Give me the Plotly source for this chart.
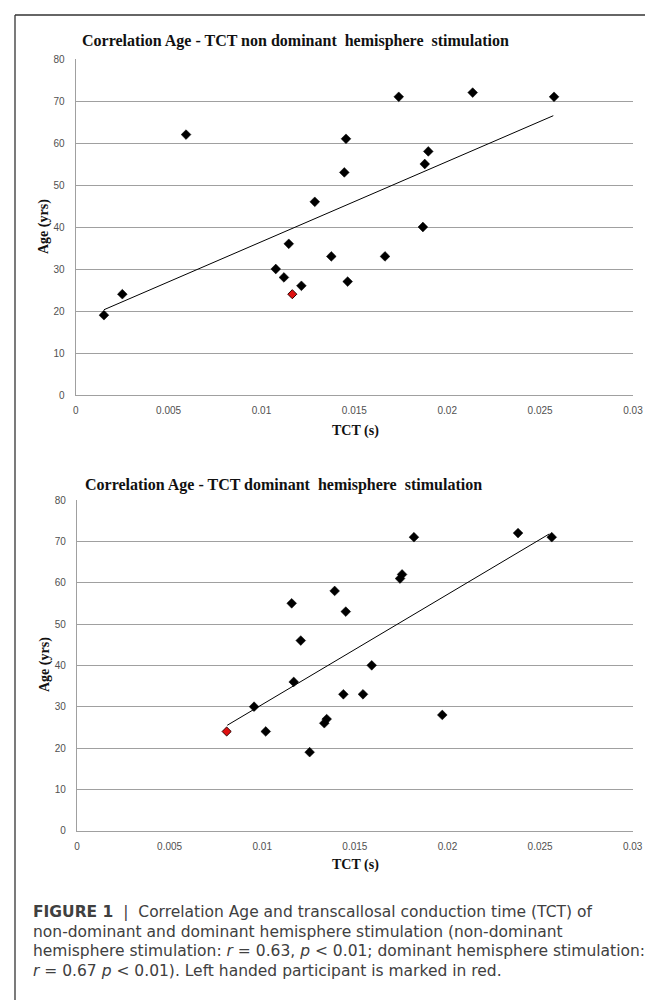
import plotly.graph_objects as go

W, H = 653, 1001

# ---------------- data ----------------
# Non-dominant hemisphere stimulation (top chart)
nd_tct = [0.00152, 0.00251, 0.00594, 0.01077, 0.01121, 0.01147, 0.01215, 0.01287,
          0.01376, 0.01446, 0.01455, 0.01464, 0.01665, 0.01739, 0.01869, 0.01879,
          0.01898, 0.02137, 0.02575]
nd_age = [19, 24, 62, 30, 28, 36, 26, 46, 33, 53, 61, 27, 33, 71, 40, 55, 58, 72, 71]
nd_left_tct = [0.01166]
nd_left_age = [24]
nd_trend_tct = [0.00152, 0.02571]
nd_trend_age = [20.3, 66.5]

# Dominant hemisphere stimulation (bottom chart)
d_tct = [0.00956, 0.01019, 0.01159, 0.01170, 0.01208, 0.01256, 0.01335, 0.01348,
         0.01391, 0.01451, 0.01438, 0.01544, 0.01591, 0.01744, 0.01755, 0.01819,
         0.01972, 0.02381, 0.02563]
d_age = [30, 24, 55, 36, 46, 19, 26, 27, 58, 53, 33, 33, 40, 61, 62, 71, 28, 72, 71]
d_left_tct = [0.00808]
d_left_age = [24]
d_trend_tct = [0.00811, 0.02550]
d_trend_age = [25.5, 71.8]

x_ticks = [0, 0.005, 0.01, 0.015, 0.02, 0.025, 0.03]
x_tick_labels = ["0", "0.005", "0.01", "0.015", "0.02", "0.025", "0.03"]
y_ticks = [0, 10, 20, 30, 40, 50, 60, 70, 80]

titles = ["Correlation Age - TCT non dominant  hemisphere  stimulation",
          "Correlation Age - TCT dominant  hemisphere  stimulation"]
x_title = "TCT (s)"
y_title = "Age (yrs)"
caption_lines = [
    "<b>FIGURE 1</b>  |  Correlation Age and transcallosal conduction time (TCT) of",
    "non-dominant and dominant hemisphere stimulation (non-dominant",
    "hemisphere stimulation: <i>r</i> = 0.63, <i>p</i> &lt; 0.01; dominant hemisphere stimulation:",
    "<i>r</i> = 0.67 <i>p</i> &lt; 0.01). Left handed participant is marked in red.",
]


def px(x):
    return x / W


def py(y):
    return 1 - y / H


GRID = "#a0a0a0"
TICKFONT = dict(family="Liberation Sans, Arial, sans-serif", size=10, color="#505050")
SERIF = "Liberation Serif, Times New Roman, serif"

fig = go.Figure()

panels = [
    dict(tct=nd_tct, age=nd_age, ltct=nd_left_tct, lage=nd_left_age,
         ttct=nd_trend_tct, tage=nd_trend_age, xa="x", ya="y"),
    dict(tct=d_tct, age=d_age, ltct=d_left_tct, lage=d_left_age,
         ttct=d_trend_tct, tage=d_trend_age, xa="x2", ya="y2"),
]

for p in panels:
    fig.add_trace(go.Scatter(x=p["ttct"], y=p["tage"], mode="lines",
                             line=dict(color="black", width=1),
                             xaxis=p["xa"], yaxis=p["ya"], showlegend=False,
                             hoverinfo="skip"))
    fig.add_trace(go.Scatter(x=p["tct"], y=p["age"], mode="markers",
                             marker=dict(symbol="diamond", size=7.5, color="black",
                                         line=dict(width=0.5, color="black")),
                             xaxis=p["xa"], yaxis=p["ya"], showlegend=False))
    fig.add_trace(go.Scatter(x=p["ltct"], y=p["lage"], mode="markers",
                             marker=dict(symbol="diamond", size=7, color="#e01010",
                                         line=dict(width=1, color="#300000")),
                             xaxis=p["xa"], yaxis=p["ya"], showlegend=False))

# plot areas (pixels)
areas = [
    dict(l=67.7, r=625.0, t=51.0, b=387.0),
    dict(l=69.0, r=624.7, t=492.0, b=822.7),
]

xaxis_common = dict(range=[0, 0.03], tickvals=x_ticks, ticktext=x_tick_labels,
                    showgrid=False, zeroline=False, showline=True, linecolor=GRID,
                    linewidth=1.3, ticks="", tickfont=TICKFONT, ticklabelstandoff=6,
                    fixedrange=True, automargin=False)
yaxis_common = dict(range=[0, 80], tickvals=y_ticks, showgrid=True, gridcolor=GRID,
                    gridwidth=1.3, zeroline=False, showline=True, linecolor=GRID,
                    linewidth=1.3, ticks="", tickfont=TICKFONT, ticklabelstandoff=8,
                    fixedrange=True, automargin=False)

layout = dict(
    width=W, height=H, margin=dict(l=0, r=0, t=0, b=0, autoexpand=False),
    paper_bgcolor="white", plot_bgcolor="white", showlegend=False,
)
for i, a in enumerate(areas):
    sfx = "" if i == 0 else str(i + 1)
    layout["xaxis" + sfx] = dict(xaxis_common, domain=[px(a["l"]), px(a["r"])],
                                 anchor="y" + sfx)
    layout["yaxis" + sfx] = dict(yaxis_common, domain=[py(a["b"]), py(a["t"])],
                                 anchor="x" + sfx)
fig.update_layout(**layout)

annotations = []
title_pos = [(73, 33), (76, 477)]
xtitle_pos = [(347, 423), (347, 857)]
ytitle_pos = [(36, 219), (37, 657)]
for i in range(2):
    annotations.append(dict(text="<b>" + titles[i] + "</b>", x=px(title_pos[i][0]),
                            y=py(title_pos[i][1]), xref="paper", yref="paper",
                            xanchor="left", yanchor="middle", showarrow=False,
                            borderpad=0,
                            font=dict(family=SERIF, size=16, color="#111111")))
    annotations.append(dict(text="<b>" + x_title + "</b>", x=px(xtitle_pos[i][0]),
                            y=py(xtitle_pos[i][1]), xref="paper", yref="paper",
                            xanchor="center", yanchor="middle", showarrow=False,
                            font=dict(family=SERIF, size=14, color="#111111")))
    annotations.append(dict(text="<b>" + y_title + "</b>", x=px(ytitle_pos[i][0]),
                            y=py(ytitle_pos[i][1]), xref="paper", yref="paper",
                            xanchor="center", yanchor="middle", showarrow=False,
                            textangle=-90,
                            font=dict(family=SERIF, size=14, color="#111111")))

cap_y = [904, 923.5, 943, 962.5]
for line, yy in zip(caption_lines, cap_y):
    annotations.append(dict(text=line, x=px(24), y=py(yy), xref="paper", yref="paper",
                            xanchor="left", yanchor="middle", showarrow=False,
                            borderpad=0,
                            font=dict(family="DejaVu Sans, Verdana, sans-serif",
                                      size=15.5, color="#404040")))
fig.update_layout(annotations=annotations)

# figure border (top and left edges)
fig.update_layout(shapes=[
    dict(type="line", xref="paper", yref="paper", x0=px(7), x1=px(653), y0=py(7), y1=py(7),
         line=dict(color="#333333", width=1.3)),
    dict(type="line", xref="paper", yref="paper", x0=px(7), x1=px(7), y0=py(7), y1=py(992),
         line=dict(color="#333333", width=1.3)),
])

fig.write_html("out.html")
